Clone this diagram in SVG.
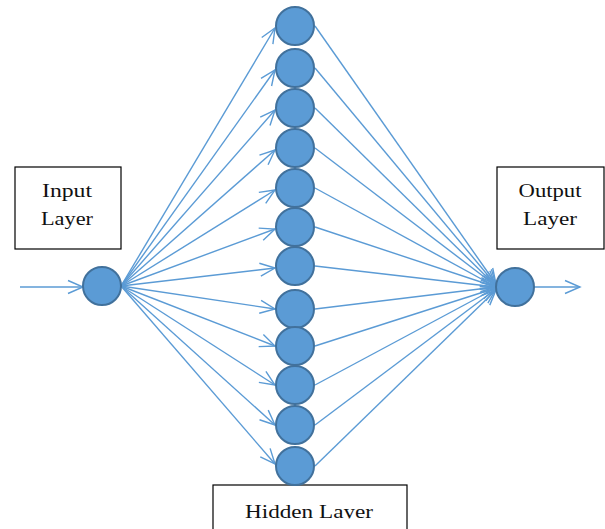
<svg xmlns="http://www.w3.org/2000/svg" width="605" height="529" viewBox="0 0 605 529">
  <defs>
    <style>
      .edge { stroke: #5B9BD5; stroke-width: 1.4; fill: none; marker-end: url(#arrow); }
      .neuron { fill: #5B9BD5; stroke: #41719C; stroke-width: 2; }
      .label-box { fill: #FFFFFF; stroke: #000000; stroke-width: 1.2; }
      .label { font-family: "Liberation Serif", "Times New Roman", serif; font-size: 19px; fill: #111111; text-anchor: middle; }
    </style>
    <marker id="arrow" viewBox="-18 -8 20 16" refX="0" refY="0" markerWidth="20" markerHeight="16" markerUnits="userSpaceOnUse" orient="auto" overflow="visible">
      <path d="M -15 -6.5 L 0 0 L -15 6.5" fill="none" stroke="#5B9BD5" stroke-width="1.4"/>
    </marker>
    <clipPath id="bottomClip">
      <rect x="0" y="0" width="605" height="518.5"/>
    </clipPath>
  </defs>
  <rect width="605" height="529" fill="#FFFFFF"/>

  <!-- connectors -->
  <g id="connectors">
    <line class="edge" x1="20" y1="287" x2="83" y2="287"/>
    <!-- input to hidden -->
    <line class="edge" x1="121" y1="286" x2="275" y2="28"/>
    <line class="edge" x1="121" y1="286" x2="275" y2="70"/>
    <line class="edge" x1="121" y1="286" x2="275" y2="110"/>
    <line class="edge" x1="121" y1="286" x2="275" y2="150"/>
    <line class="edge" x1="121" y1="286" x2="275" y2="190"/>
    <line class="edge" x1="121" y1="286" x2="275" y2="229"/>
    <line class="edge" x1="121" y1="286" x2="275" y2="268"/>
    <line class="edge" x1="121" y1="286" x2="275" y2="309"/>
    <line class="edge" x1="121" y1="286" x2="275" y2="346"/>
    <line class="edge" x1="121" y1="286" x2="275" y2="385"/>
    <line class="edge" x1="121" y1="286" x2="275" y2="425"/>
    <line class="edge" x1="121" y1="286" x2="275" y2="464"/>
    <!-- hidden to output -->
    <line class="edge" x1="315" y1="26" x2="496" y2="284"/>
    <line class="edge" x1="315" y1="68" x2="496" y2="285"/>
    <line class="edge" x1="315" y1="108" x2="496" y2="286"/>
    <line class="edge" x1="315" y1="148" x2="496" y2="286"/>
    <line class="edge" x1="315" y1="188" x2="496" y2="287"/>
    <line class="edge" x1="315" y1="227" x2="496" y2="287"/>
    <line class="edge" x1="315" y1="266" x2="496" y2="287"/>
    <line class="edge" x1="315" y1="309" x2="496" y2="287"/>
    <line class="edge" x1="315" y1="346" x2="496" y2="288"/>
    <line class="edge" x1="315" y1="385" x2="496" y2="288"/>
    <line class="edge" x1="315" y1="425" x2="496" y2="289"/>
    <line class="edge" x1="315" y1="466" x2="496" y2="290"/>
    <line class="edge" x1="534" y1="287" x2="580" y2="287"/>
  </g>

  <!-- layer captions -->
  <g id="input-label">
    <rect class="label-box" x="15" y="167" width="106" height="82"/>
    <text class="label" x="67" y="197" textLength="50" lengthAdjust="spacingAndGlyphs">Input</text>
    <text class="label" x="67" y="225" textLength="52" lengthAdjust="spacingAndGlyphs">Layer</text>
  </g>
  <g id="output-label">
    <rect class="label-box" x="497" y="167" width="107" height="82"/>
    <text class="label" x="550" y="197" textLength="63" lengthAdjust="spacingAndGlyphs">Output</text>
    <text class="label" x="550" y="225" textLength="54" lengthAdjust="spacingAndGlyphs">Layer</text>
  </g>
  <g id="hidden-label">
    <rect class="label-box" x="213" y="485" width="194" height="60"/>
    <text class="label" x="309" y="518" textLength="128" lengthAdjust="spacingAndGlyphs" clip-path="url(#bottomClip)">Hidden Layer</text>
  </g>

  <!-- neurons -->
  <g id="input-node"><circle class="neuron" cx="102" cy="286" r="19"/></g>
  <g id="hidden-nodes">
    <g id="h1"><circle class="neuron" cx="295" cy="26" r="19"/></g>
    <g id="h2"><circle class="neuron" cx="295" cy="68" r="19"/></g>
    <g id="h3"><circle class="neuron" cx="295" cy="108" r="19"/></g>
    <g id="h4"><circle class="neuron" cx="295" cy="148" r="19"/></g>
    <g id="h5"><circle class="neuron" cx="295" cy="188" r="19"/></g>
    <g id="h6"><circle class="neuron" cx="295" cy="227" r="19"/></g>
    <g id="h7"><circle class="neuron" cx="295" cy="266" r="19"/></g>
    <g id="h8"><circle class="neuron" cx="295" cy="309" r="19"/></g>
    <g id="h9"><circle class="neuron" cx="295" cy="346" r="19"/></g>
    <g id="h10"><circle class="neuron" cx="295" cy="385" r="19"/></g>
    <g id="h11"><circle class="neuron" cx="295" cy="425" r="19"/></g>
    <g id="h12"><circle class="neuron" cx="295" cy="466" r="19"/></g>
  </g>
  <g id="output-node"><circle class="neuron" cx="515" cy="287" r="19"/></g>
</svg>
